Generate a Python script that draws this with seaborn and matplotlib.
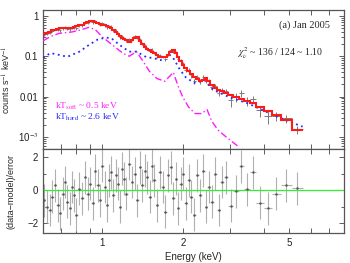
import numpy as np
import matplotlib
matplotlib.use("Agg")
import matplotlib.pyplot as plt
from matplotlib.ticker import FixedLocator, NullLocator, NullFormatter, LogLocator
import seaborn as sns

# energy bins (keV), folded model (counts/s/keV), residuals ((data-model)/error)
energy = [0.605, 0.62, 0.635, 0.65, 0.665, 0.68, 0.695, 0.71, 0.725, 0.74, 0.755, 0.77,
          0.785, 0.80, 0.82, 0.84, 0.86, 0.88, 0.90, 0.92, 0.94, 0.96, 0.98, 1.00,
          1.02, 1.04, 1.06, 1.08, 1.10, 1.12, 1.14, 1.16, 1.18, 1.20, 1.23, 1.26,
          1.29, 1.32, 1.35, 1.38, 1.41, 1.44, 1.47, 1.50, 1.53, 1.56, 1.60, 1.64,
          1.68, 1.72, 1.76, 1.80, 1.84, 1.88, 1.92, 1.96, 2.00,
          2.05, 2.10, 2.15, 2.20, 2.26, 2.32, 2.38, 2.44, 2.50, 2.57, 2.64, 2.72, 2.80, 2.90,
          3.02, 3.16, 3.30, 3.46, 3.65, 3.88, 4.15, 4.45, 4.85, 5.35]
model = [0.35, 0.38, 0.41, 0.44, 0.46, 0.48, 0.49, 0.50, 0.50, 0.50, 0.50, 0.51,
         0.53, 0.55, 0.58, 0.61, 0.65, 0.69, 0.73, 0.74, 0.70, 0.66, 0.63, 0.60,
         0.58, 0.56, 0.54, 0.50, 0.45, 0.40, 0.35, 0.32, 0.29, 0.27, 0.25, 0.23,
         0.25, 0.29, 0.30, 0.24, 0.20, 0.17, 0.15, 0.14, 0.13, 0.12, 0.105, 0.097,
         0.094, 0.095, 0.105, 0.125, 0.14, 0.12, 0.095, 0.075, 0.062,
         0.052, 0.043, 0.036, 0.030, 0.027, 0.025, 0.026, 0.029, 0.024, 0.019, 0.016, 0.0145, 0.0135, 0.0125,
         0.011, 0.0098, 0.0088, 0.0078, 0.0068, 0.0056, 0.0045, 0.0035, 0.0027, 0.0015]
resid = [-0.6, -1.0, -1.2, -0.4, 0.3, -0.9, -1.4, -0.2, 0.5, -0.7, -1.1, 0.2,
         -0.3, -1.5, 0.1, -0.5, 0.8, -0.2, 0.4, -0.8, 1.2, 0.3, -0.6, 1.5,
         0.2, -0.9, 0.6, 1.1, -0.3, 0.9, 0.4, -1.0, 1.3, 0.7, -0.2, 1.6,
         0.5, 1.0, -0.6, 1.4, 0.3, 1.2, 0.8, -0.4, 1.5, 0.6, -0.9, 1.1,
         0.2, -1.3, 0.9, 1.4, -0.5, 0.7, -1.1, 0.4, 1.0,
         -0.8, 0.6, -0.4, -1.5, 0.9, -0.3, 1.2, -1.0, 0.2, -0.7, 1.0, -1.2, 0.5, 0.8,
         -0.95, -0.05, 1.45, 0.06, 1.1, -0.75, -1.1, -0.2, 0.3, 0.12]
# relative 1-sigma error of each bin
rel_err = [0.07] * 24 + [0.08] * 33 + [0.13] * 14 + [0.25] * 10

# model components
soft_e = [0.60, 0.64, 0.69, 0.77, 0.83, 0.89, 0.94, 1.00, 1.09, 1.19, 1.26, 1.34, 1.41, 1.50,
          1.60, 1.71, 1.80, 1.84, 1.92, 2.00, 2.10, 2.22, 2.35, 2.46, 2.56, 2.70, 2.90, 3.20]
soft_v = [0.24, 0.31, 0.37, 0.40, 0.45, 0.52, 0.46, 0.30, 0.19, 0.12, 0.10, 0.13, 0.08, 0.042,
          0.028, 0.024, 0.034, 0.040, 0.018, 0.0095, 0.0055, 0.0038, 0.0038, 0.0048, 0.0025,
          0.0015, 0.0010, 0.0006]
hard_e = [0.60, 0.64, 0.68, 0.74, 0.82, 0.89, 0.96, 1.03, 1.08, 1.16, 1.26, 1.34, 1.46, 1.55,
          1.65, 1.78, 1.85, 1.95, 2.05, 2.20, 2.42, 2.55, 2.70, 3.00, 3.50, 4.00, 4.50, 5.00, 5.60]
hard_v = [0.092, 0.12, 0.11, 0.097, 0.13, 0.19, 0.26, 0.29, 0.28, 0.19, 0.13, 0.13, 0.095, 0.09,
          0.08, 0.11, 0.085, 0.046, 0.030, 0.022, 0.025, 0.016, 0.013, 0.0095, 0.0068, 0.0045,
          0.0032, 0.0024, 0.0018]

sns.set_style("ticks")
plt.rcParams['font.family'] = ['Liberation Sans', 'DejaVu Sans']
plt.rcParams['mathtext.fontset'] = 'stix'

e = np.array(energy)
m = np.array(model)
r = np.array(resid)
err = m * np.array(rel_err)
data = m + r * err
mids = np.sqrt(e[:-1] * e[1:])
edges = np.concatenate([[e[0] ** 2 / mids[0]], mids, [e[-1] ** 2 / mids[-1]]])
xerr = [e - edges[:-1], edges[1:] - e]

fig = plt.figure(figsize=(3.5, 2.63), dpi=100)
ax1 = fig.add_axes([0.123, 0.433, 0.86, 0.529])
ax2 = fig.add_axes([0.123, 0.114, 0.86, 0.319], sharex=ax1)

ax1.set_xscale('log')
ax1.set_yscale('log')

ax1.errorbar(e, data, xerr=xerr, yerr=err, fmt='none', ecolor='#7a7a7a', elinewidth=0.7, zorder=2)
sns.lineplot(x=soft_e, y=soft_v, ax=ax1, color='#ff1aff', lw=1.0, linestyle=(0, (5, 2, 1, 2)), zorder=3)
sns.lineplot(x=hard_e, y=hard_v, ax=ax1, color='#2525ff', lw=1.3, linestyle=(0, (1, 2)), zorder=3)
ax1.stairs(m, edges, color='#ff1a1a', lw=1.5, baseline=None, zorder=4)

ax2.errorbar(e, r, xerr=xerr, yerr=1.0, fmt='.', ms=1.5, color='#555555',
             ecolor='#b0b0b0', elinewidth=0.8)
ax2.axhline(0, color='#33ee33', lw=0.9)

ax1.set_xlim(0.6, 8)
ax1.set_ylim(5e-4, 1.4)
ax2.set_ylim(-2.6, 2.5)

xt = [0.7, 0.8, 0.9, 1, 2, 3, 4, 5, 6, 7]
xl = ['', '', '', '1', '2', '', '', '5', '', '']
ax2.xaxis.set_major_locator(FixedLocator(xt))
ax2.set_xticklabels(xl)
ax2.xaxis.set_minor_locator(NullLocator())

ax1.yaxis.set_major_locator(FixedLocator([1e-3, 0.01, 0.1, 1]))
ax1.set_yticklabels(['10$^{-3}$', '0.01', '0.1', '1'])
ax1.yaxis.set_minor_locator(LogLocator(base=10, subs=np.arange(2, 10)))
ax1.yaxis.set_minor_formatter(NullFormatter())

ax2.yaxis.set_major_locator(FixedLocator([-2, 0, 2]))
ax2.yaxis.set_minor_locator(FixedLocator([-1, 1]))

for ax in (ax1, ax2):
    ax.tick_params(which='both', direction='in', top=True, right=True,
                   labelsize=7, colors='#444444', labelcolor='#222222', width=0.6)
    ax.tick_params(which='major', length=3.5)
    ax.tick_params(which='minor', length=2)
    for s in ax.spines.values():
        s.set_color('#555555')
        s.set_linewidth(0.9)
ax1.tick_params(labelbottom=False)

ax1.set_ylabel('counts s$^{-1}$ keV$^{-1}$', fontsize=6.5, labelpad=3)
ax2.set_ylabel('(data\u2212model)/error', fontsize=6.5, labelpad=8)
ax2.set_xlabel('Energy (keV)', fontsize=7, labelpad=3)

serif = ['Liberation Serif', 'DejaVu Serif']
ax1.text(0.953, 0.89, '(a) Jan 2005', transform=ax1.transAxes, ha='right', va='center',
         fontsize=7.5, family=serif)
ax1.text(0.645, 0.69, '$\\chi^2_\\nu$ ~ 136 / 124 ~ 1.10', transform=ax1.transAxes,
         ha='left', va='center', fontsize=7, family=serif)
ax1.text(0.04, 0.31, 'kT$_{\\rm soft}$ ~ 0.5 keV', transform=ax1.transAxes, ha='left',
         va='center', fontsize=6.8, family=serif, color='#ff1aff')
ax1.text(0.04, 0.225, 'kT$_{\\rm hard}$ ~ 2.6 keV', transform=ax1.transAxes, ha='left',
         va='center', fontsize=6.8, family=serif, color='#2525ff')

fig.savefig('out.png', dpi=100)
